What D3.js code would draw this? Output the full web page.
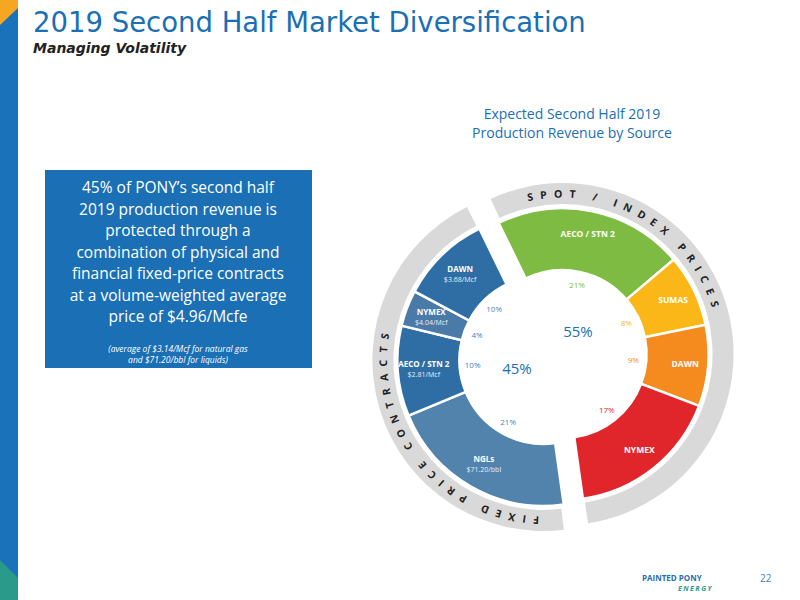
<!DOCTYPE html>
<html><head><meta charset="utf-8">
<script src="https://cdn.jsdelivr.net/npm/d3@7"></script>
<style>body{margin:0;background:#fff}svg{font-family:"Open Sans",sans-serif}</style>
</head><body><svg id="c" width="800" height="600"></svg>
<script>
const spotNames=["AECO / STN 2","SUMAS","DAWN","NYMEX"];
const spotValues=[21,8,9,17];
const spotColors=["#7dbb42","#fbb617","#f58a1f","#e0262a"];
const fixedNames=["NGLs","AECO / STN 2","NYMEX","DAWN"];
const fixedPrices=["$71.20/bbl","$2.81/Mcf","$4.04/Mcf","$3.68/Mcf"];
const fixedValues=[21,10,4,10];
const fixedColors=["#5283ad","#2f6ea5","#4a7aa8","#2f6ea5"];

const svg=d3.select("#c");
const blue="#1a6fb5";
svg.append("rect").attr("x",0).attr("y",0).attr("width",18).attr("height",600).attr("fill","#1a72bb");
svg.append("path").attr("d","M0,0L18,0L18,8L0,25Z").attr("fill","#f5a623");
svg.append("path").attr("d","M0,560L18,578L18,600L0,600Z").attr("fill","#2a9a8a");
svg.append("text").attr("x",33).attr("y",32).attr("fill",blue).attr("font-size",27.5).attr("font-family","DejaVu Sans").text("2019 Second Half Market Diversification");
svg.append("text").attr("x",33).attr("y",53).attr("fill","#222").attr("font-size",14).attr("font-style","italic").attr("font-weight","bold").attr("font-family","DejaVu Sans").text("Managing Volatility");

svg.append("text").attr("x",572).attr("y",119).attr("text-anchor","middle").attr("fill",blue).attr("font-size",14).text("Expected Second Half 2019");
svg.append("text").attr("x",572).attr("y",138).attr("text-anchor","middle").attr("fill",blue).attr("font-size",14).text("Production Revenue by Source");

svg.append("rect").attr("x",45).attr("y",170).attr("width",267).attr("height",198).attr("fill",blue);
const lines=["45% of PONY’s second half","2019 production revenue is","protected through a","combination of physical and","financial fixed-price contracts","at a volume-weighted average","price of $4.96/Mcfe"];
lines.forEach((l,i)=>svg.append("text").attr("x",178).attr("y",193+i*21.5).attr("text-anchor","middle").attr("fill","#fff").attr("font-size",15.5).text(l));
["(average of $3.14/Mcf for natural gas","and $71.20/bbl for liquids)"].forEach((l,i)=>svg.append("text").attr("x",178).attr("y",352+i*11).attr("text-anchor","middle").attr("fill","#fff").attr("font-size",8.5).attr("font-style","italic").text(l));

const cx=553,cy=357,ri=84,ro=146,gi=150,go=171,off=10;
const start=-26*Math.PI/180;
const spotTotal=d3.sum(spotValues),fixedTotal=d3.sum(fixedValues),tot=spotTotal+fixedTotal;
const ang=d3.scaleLinear().domain([0,tot]).range([start,start+2*Math.PI]);
function group(names,values,colors,s0,sub,ringText){
  const a0=ang(s0),a1=ang(s0+d3.sum(values));
  const mid=(a0+a1)/2;
  const g=svg.append("g").attr("transform",`translate(${cx+off*Math.sin(mid)},${cy-off*Math.cos(mid)})`);
  const ring=d3.arc().innerRadius(gi).outerRadius(go);
  g.append("path").attr("d",ring({startAngle:a0+0.02,endAngle:a1-0.01})).attr("fill","#d9d9d9");
  const id="p"+s0;
  const tr=(gi+go)/2-4;
  const pth=d3.path();
  pth.arc(0,0,tr,a0+0.09-Math.PI/2,a1-0.05-Math.PI/2,false);
  g.append("path").attr("id",id).attr("d",pth.toString()).attr("fill","none");
  g.append("text").attr("font-size",10.5).attr("font-weight","bold").attr("letter-spacing",7).attr("fill","#222")
    .append("textPath").attr("href","#"+id).attr("startOffset",ringText[1]).text(ringText[0]);
  let c=s0;
  const arc=d3.arc().innerRadius(ri).outerRadius(ro);
  values.forEach((v,i)=>{
    const d={startAngle:ang(c),endAngle:ang(c+v)};c+=v;
    g.append("path").attr("d",arc(d)).attr("fill",colors[i]).attr("stroke","#fff").attr("stroke-width",2.5);
    const m=(d.startAngle+d.endAngle)/2, r=(ri+ro)/2+(sub?5:8);
    const x=r*Math.sin(m),y=-r*Math.cos(m);
    g.append("text").attr("x",x).attr("y",y+(sub?-2:3)).attr("text-anchor","middle").attr("fill","#fff").attr("font-size",sub?8:8.5).attr("font-weight","bold").text(names[i]);
    if(sub) g.append("text").attr("x",x).attr("y",y+8).attr("text-anchor","middle").attr("fill","#e6eef6").attr("font-size",7).text(sub[i]);
    const pr=ri-13;
    g.append("text").attr("x",pr*Math.sin(m)).attr("y",-pr*Math.cos(m)+3).attr("text-anchor","middle").attr("fill",sub?"#4a7fb8":colors[i]).attr("font-size",8).text(v+"%");
  });
}
group(spotNames,spotValues,spotColors,0,null,["SPOT / INDEX PRICES",22]);
group(fixedNames,fixedValues,fixedColors,spotTotal,fixedPrices,["FIXED PRICE CONTRACTS",12]);
svg.append("text").attr("x",578).attr("y",337).attr("text-anchor","middle").attr("fill",blue).attr("font-size",15).text(spotTotal+"%");
svg.append("text").attr("x",517).attr("y",374).attr("text-anchor","middle").attr("fill",blue).attr("font-size",15).text(fixedTotal+"%");

svg.append("text").attr("x",642).attr("y",581).attr("fill","#2a6db0").attr("font-size",8).attr("font-weight","bold").text("PAINTED PONY");
svg.append("text").attr("x",678).attr("y",591).attr("fill","#2a9a8a").attr("font-size",7).attr("font-weight","bold").attr("font-style","italic").attr("letter-spacing",1.5).text("ENERGY");
svg.append("text").attr("x",760).attr("y",582).attr("fill","#4a7fb8").attr("font-size",10).text("22");
</script></body></html>
